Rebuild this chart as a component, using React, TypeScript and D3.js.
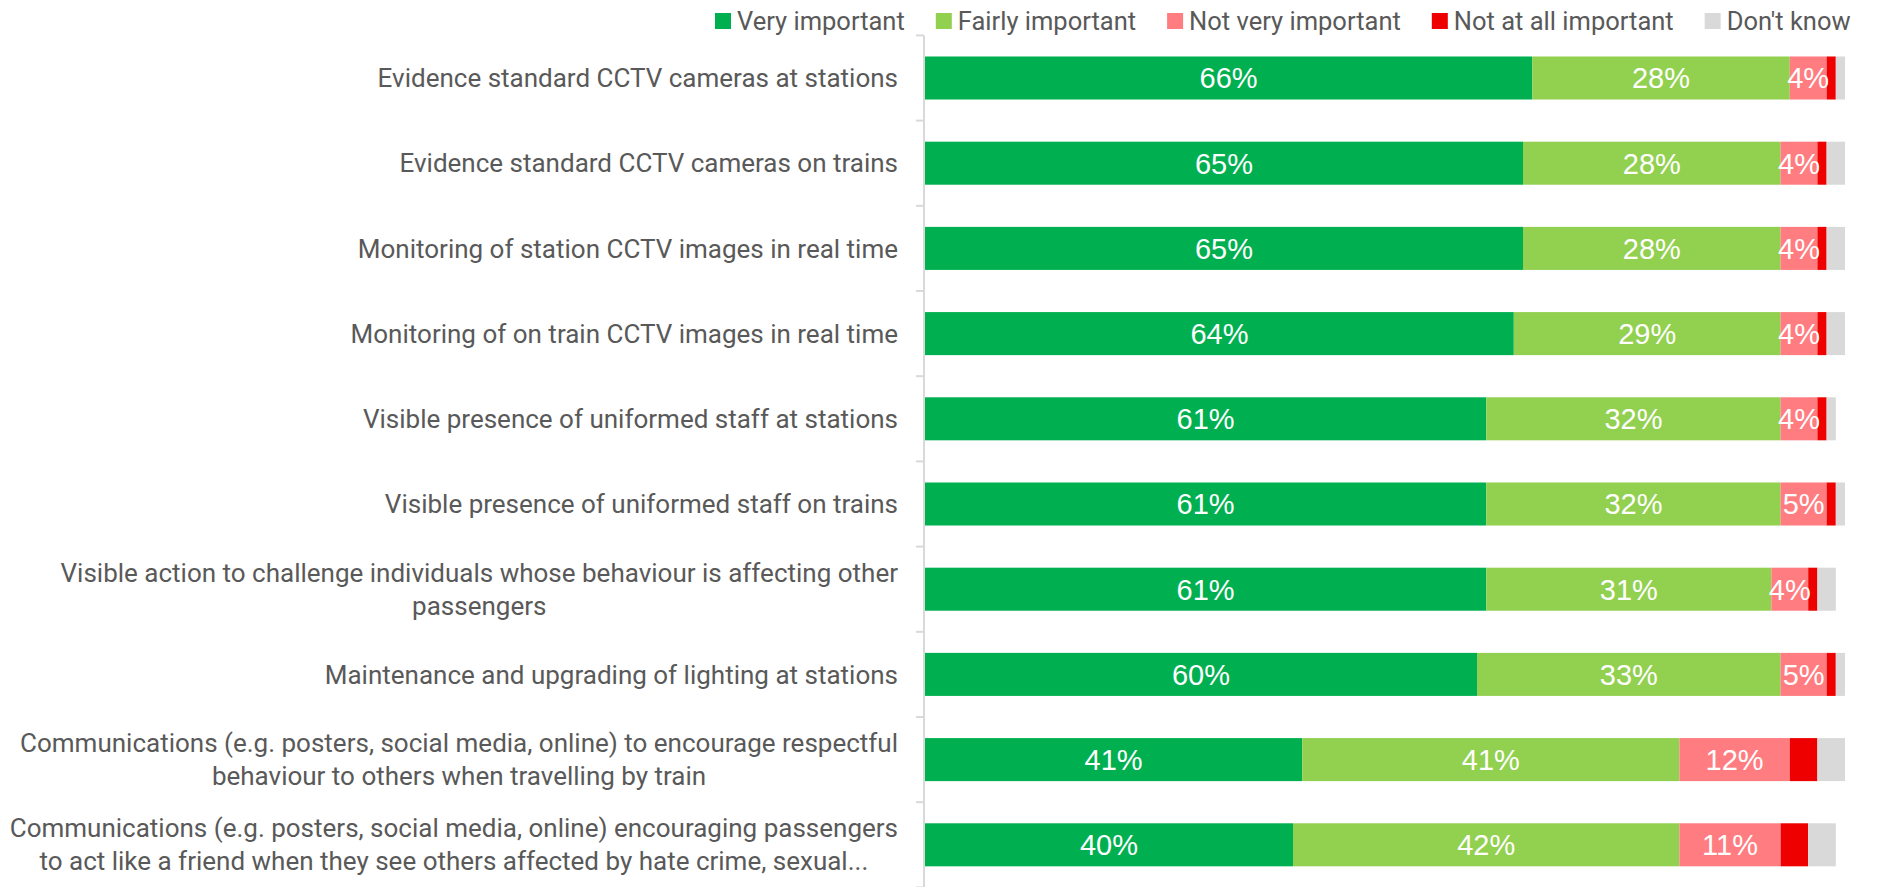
import React, { useEffect, useRef } from 'react';
import * as d3 from 'd3';

const categories = [
  'Evidence standard CCTV cameras at stations',
  'Evidence standard CCTV cameras on trains',
  'Monitoring of station CCTV images in real time',
  'Monitoring of on train CCTV images in real time',
  'Visible presence of uniformed staff at stations',
  'Visible presence of uniformed staff on trains',
  'Visible action to challenge individuals whose behaviour is affecting other passengers',
  'Maintenance and upgrading of lighting at stations',
  'Communications (e.g. posters, social media, online) to encourage respectful behaviour to others when travelling by train',
  'Communications (e.g. posters, social media, online) encouraging passengers to act like a friend when they see others affected by hate crime, sexual...',
];

const labelLines = [
  ['Evidence standard CCTV cameras at stations'],
  ['Evidence standard CCTV cameras on trains'],
  ['Monitoring of station CCTV images in real time'],
  ['Monitoring of on train CCTV images in real time'],
  ['Visible presence of uniformed staff at stations'],
  ['Visible presence of uniformed staff on trains'],
  ['Visible action to challenge individuals whose behaviour is affecting other', 'passengers'],
  ['Maintenance and upgrading of lighting at stations'],
  ['Communications (e.g. posters, social media, online) to encourage respectful', 'behaviour to others when travelling by train'],
  ['Communications (e.g. posters, social media, online) encouraging passengers', 'to act like a friend when they see others affected by hate crime, sexual...'],
];

const seriesNames = ['Very important', 'Fairly important', 'Not very important', 'Not at all important', "Don't know"];
const veryImportant = [66, 65, 65, 64, 61, 61, 61, 60, 41, 40];
const fairlyImportant = [28, 28, 28, 29, 32, 32, 31, 33, 41, 42];
const notVeryImportant = [4, 4, 4, 4, 4, 5, 4, 5, 12, 11];
const notAtAllImportant = [1, 1, 1, 1, 1, 1, 1, 1, 3, 3];
const dontKnow = [1, 2, 2, 2, 1, 1, 2, 1, 3, 3];
const seriesColors = ['#00B050', '#92D050', '#FF7C80', '#EE0000', '#D9D9D9'];
const showLabels = [true, true, true, false, false];

const W = 1882;
const H = 887;
const TEXT_FONT = 'Roboto, "Noto Sans", sans-serif';
const LABEL_FONT = '"Liberation Sans", Arial, sans-serif';
const GRAY = '#595959';

export default function App() {
  const ref = useRef<SVGSVGElement | null>(null);

  useEffect(() => {
    document.body.style.margin = '0';
    const svg = d3.select(ref.current);
    svg.selectAll('*').remove();

    const values = [veryImportant, fairlyImportant, notVeryImportant, notAtAllImportant, dontKnow];
    const rows = categories.map((c, i) => {
      const o: any = { category: c };
      seriesNames.forEach((s, j) => (o[s] = values[j][i]));
      return o;
    });
    const stacked = d3.stack().keys(seriesNames)(rows);

    const x = d3.scaleLinear().domain([0, 100]).range([925, 1845]);
    const y0 = 35.4;
    const y1 = 887.4;
    const y = d3.scaleBand<string>().domain(categories).range([y0, y1]).paddingInner(0.495).paddingOuter(0.2475);
    const step = y.step();

    // axis
    const axis = svg.append('g');
    axis.append('line')
      .attr('x1', 924).attr('x2', 924)
      .attr('y1', y0).attr('y2', y1)
      .attr('stroke', '#D9D9D9').attr('stroke-width', 2);
    d3.range(categories.length + 1).forEach((i) => {
      const yy = y0 + i * step;
      axis.append('line')
        .attr('x1', 916).attr('x2', 924)
        .attr('y1', yy).attr('y2', yy)
        .attr('stroke', '#D9D9D9').attr('stroke-width', 2);
    });

    // bars
    stacked.forEach((layer, j) => {
      const g = svg.append('g');
      g.selectAll('rect')
        .data(layer)
        .join('rect')
        .attr('x', (d) => x(d[0]))
        .attr('width', (d) => x(d[1]) - x(d[0]))
        .attr('y', (d) => y((d as any).data.category)!)
        .attr('height', y.bandwidth())
        .attr('fill', seriesColors[j]);
    });

    // data labels
    stacked.forEach((layer, j) => {
      if (!showLabels[j]) return;
      svg.append('g')
        .selectAll('text')
        .data(layer)
        .join('text')
        .attr('x', (d) => (x(d[0]) + x(d[1])) / 2)
        .attr('y', (d) => y((d as any).data.category)! + y.bandwidth() / 2)
        .attr('dy', '0.36em')
        .attr('text-anchor', 'middle')
        .attr('fill', '#FFFFFF')
        .attr('font-family', LABEL_FONT)
        .attr('font-size', 29)
        .text((d) => `${d[1] - d[0]}%`);
    });

    // category labels
    const labelRight = 898;
    const lineH = 33;
    categories.forEach((c, i) => {
      const lines = labelLines[i];
      const cy = y(c)! + y.bandwidth() / 2;
      const g = svg.append('g');
      const texts = lines.map((ln, k) =>
        g.append('text')
          .attr('y', cy + (k - (lines.length - 1) / 2) * lineH)
          .attr('dy', '0.35em')
          .attr('fill', GRAY)
          .attr('font-family', TEXT_FONT)
          .attr('font-size', 26)
          .text(ln)
      );
      const widths = texts.map((t) => (t.node() as SVGTextElement).getComputedTextLength());
      const blockW = Math.max(...widths);
      texts.forEach((t) => t.attr('x', labelRight - blockW / 2).attr('text-anchor', 'middle'));
    });

    // legend
    const legend = svg.append('g');
    let lx = 715;
    seriesNames.forEach((s, j) => {
      legend.append('rect')
        .attr('x', lx).attr('y', 13).attr('width', 16).attr('height', 16)
        .attr('fill', seriesColors[j]);
      const t = legend.append('text')
        .attr('x', lx + 22).attr('y', 21).attr('dy', '0.35em')
        .attr('fill', GRAY)
        .attr('font-family', TEXT_FONT)
        .attr('font-size', 25.5)
        .text(s);
      const w = (t.node() as SVGTextElement).getComputedTextLength();
      lx = lx + 22 + w + 31;
    });
  }, []);

  return <svg ref={ref} width={W} height={H} style={{ display: 'block', background: '#fff' }} />;
}
